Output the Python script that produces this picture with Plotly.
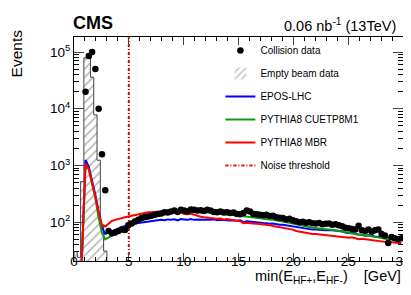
import plotly.graph_objects as go

# bin centres (0.3 GeV bins)
bin_width = 0.3
centers = [round(0.15 + 0.3 * k, 2) for k in range(100)]

# Empty beam data histogram (first bins)
empty_x = [0.15, 0.45, 0.75, 1.05, 1.35, 1.65, 1.95, 2.25, 2.55, 2.85]
empty_y = [30, 24, 520, 79000, 79000, 36000, 7800, 1240, 90, 31]

# Collision data (from 1.05 GeV)
data_y = [
    20000, 85000, 100000, 50000, 10000, 1570, 365,
    70, 64, 66, 70, 74, 73, 88, 95, 103, 110, 118, 124, 126, 130, 135, 140, 143,
    150, 148, 155, 160, 152, 165, 160, 155, 168, 165, 160, 162, 158, 165, 160, 152,
    150, 155, 148, 150, 145, 148, 140, 138, 145, 160, 155, 140, 138, 135, 132, 136,
    128, 130, 122, 120, 118, 112, 115, 108, 104, 100, 102, 98, 100, 96, 95, 97,
    92, 94, 95, 90, 92, 88, 85, 80, 78, 76, 74, 87, 72, 70, 74, 68, 72, 74,
    62, 58, 43, 55, 52, 50, 52,
]
data_x = centers[3:3 + len(data_y)]

# MC simulations (from 0.45 GeV)
mc_x = centers[1:]
epos = [
    1, 45, 1250, 950, 560, 300, 150, 80, 62, 66, 70, 74, 78, 82, 86, 90,
    92, 95, 97, 100, 102, 103, 105, 106, 108, 110, 108, 112, 110, 113, 108, 114,
    112, 110, 114, 110, 112, 110, 111, 112, 110, 112, 108, 110, 108, 109, 107, 108,
    106, 108, 100, 104, 102, 101, 100, 98, 97, 96, 94, 95, 92, 90, 90, 88,
    86, 85, 84, 80, 78, 77, 76, 74, 74, 73, 73, 72, 73, 72, 73, 70,
    69, 66, 64, 66, 62, 61, 60, 58, 59, 57, 56, 55, 54, 53, 52, 51,
    51, 50, 50,
]
cuetp8m1 = [
    1, 35, 1000, 850, 500, 260, 120, 65, 50, 53, 58, 63, 68, 74, 79, 84,
    90, 96, 102, 108, 112, 118, 122, 127, 132, 136, 140, 144, 146, 148, 150, 152,
    155, 150, 154, 152, 153, 150, 148, 150, 146, 145, 142, 140, 142, 138, 136, 134,
    132, 130, 128, 128, 124, 122, 120, 118, 117, 116, 112, 110, 108, 106, 104, 100,
    98, 95, 92, 88, 86, 84, 82, 80, 79, 78, 76, 75, 74, 73, 72, 70,
    68, 66, 65, 64, 62, 60, 60, 58, 58, 56, 55, 54, 52, 51, 50, 50,
    49, 49, 49,
]
mbr = [
    1, 40, 1080, 870, 520, 280, 150, 90, 84, 95, 105, 110, 115, 118, 122, 126,
    130, 135, 140, 144, 147, 150, 150, 152, 150, 155, 152, 155, 150, 152, 145, 148,
    140, 138, 142, 135, 130, 125, 122, 120, 118, 118, 115, 116, 112, 114, 110, 108,
    106, 104, 96, 98, 96, 96, 94, 93, 92, 90, 88, 86, 84, 82, 80, 78,
    76, 74, 70, 68, 66, 64, 63, 62, 62, 61, 60, 59, 58, 57, 57, 56,
    55, 54, 53, 54, 52, 50, 51, 50, 49, 48, 48, 47, 46, 45, 45, 44,
    44, 43, 43,
]

noise_x = [5, 5]
noise_y = [10, 1e6]

x_ticks = [0, 5, 10, 15, 20, 25, 30]
y_tickvals = [1e2, 1e3, 1e4, 1e5]
y_ticktext = ["10<sup>2</sup>", "10<sup>3</sup>", "10<sup>4</sup>", "10<sup>5</sup>"]

FONT = "Liberation Sans, Arial, Helvetica, sans-serif"

# step outline of the empty beam histogram, built from its bins
floor_val = 1.0
step_x, step_y = [empty_x[0] - bin_width / 2], [floor_val]
for xc, yv in zip(empty_x, empty_y):
    step_x += [xc - bin_width / 2, xc + bin_width / 2]
    step_y += [yv, yv]
step_x.append(empty_x[-1] + bin_width / 2)
step_y.append(floor_val)

fig = go.Figure()

fig.add_trace(go.Bar(
    x=empty_x, y=empty_y, width=bin_width, name="Empty beam data",
    marker=dict(color="white", line=dict(width=0),
                pattern=dict(shape="/", fgcolor="#666666", bgcolor="white", size=6, solidity=0.25)),
    legendrank=2, legendgroup="g2",
))
fig.add_trace(go.Scatter(
    x=step_x, y=step_y, mode="lines", showlegend=False, hoverinfo="skip",
    line=dict(color="#444444", width=1), legendgroup="g2",
))
fig.add_trace(go.Scatter(x=mc_x, y=epos, mode="lines", name="EPOS-LHC",
                         line=dict(color="#0000ff", width=2), legendrank=3, legendgroup="g3"))
fig.add_trace(go.Scatter(x=mc_x, y=cuetp8m1, mode="lines", name="PYTHIA8 CUETP8M1",
                         line=dict(color="#119911", width=2), legendrank=4, legendgroup="g4"))
fig.add_trace(go.Scatter(x=mc_x, y=mbr, mode="lines", name="PYTHIA8 MBR",
                         line=dict(color="#ff0000", width=2), legendrank=5, legendgroup="g5"))
fig.add_trace(go.Scatter(x=noise_x, y=noise_y, mode="lines", name="Noise threshold",
                         line=dict(color="#dd0000", width=2, dash="3px,2px,1px,2px"),
                         legendrank=6, legendgroup="g6"))
fig.add_trace(go.Scatter(
    x=data_x, y=data_y, mode="markers", name="Collision data",
    marker=dict(color="black", size=6.5, symbol="circle"),
    legendrank=1, legendgroup="g1",
))

fig.update_layout(
    width=411, height=295,
    margin=dict(l=66, r=8, t=29, b=42),
    paper_bgcolor="white", plot_bgcolor="white",
    font=dict(family=FONT, color="black"),
    bargap=0,
    showlegend=True,
    legend=dict(
        x=0.445, y=1.005, xanchor="left", yanchor="top",
        bgcolor="rgba(0,0,0,0)", borderwidth=0,
        font=dict(size=10, family=FONT),
        traceorder="grouped", tracegroupgap=4,
        itemwidth=30,
    ),
    xaxis=dict(
        range=[0, 30], tickvals=x_ticks, ticks="inside", ticklen=8,
        mirror="allticks", showline=True, linecolor="black", linewidth=1,
        showgrid=False, zeroline=False,
        tickfont=dict(size=13.5, family=FONT),
        ticklabelstandoff=-12,
        minor=dict(ticks="inside", ticklen=4, dtick=1, showgrid=False, tickcolor="black"),
    ),
    yaxis=dict(
        type="log", range=[1.316, 5.265], tickvals=y_tickvals, ticktext=y_ticktext,
        ticks="inside", ticklen=10,
        mirror="allticks", showline=True, linecolor="black", linewidth=1,
        showgrid=False, zeroline=False,
        tickfont=dict(size=13.5, family=FONT),
        minor=dict(ticks="inside", ticklen=5, dtick="D1", showgrid=False, tickcolor="black"),
    ),
    annotations=[
        dict(text="<b>CMS</b>", xref="paper", yref="paper", x=-0.008, y=1.0,
             xanchor="left", yanchor="bottom", showarrow=False,
             font=dict(size=18, family=FONT), yshift=2),
        dict(text="0.06 nb<sup>-1</sup> (13TeV)", xref="paper", yref="paper", x=0.985, y=1.0,
             xanchor="right", yanchor="bottom", showarrow=False,
             font=dict(size=14.5, family=FONT), yshift=1),
        dict(text="Events", xref="paper", yref="paper", x=-0.175, y=1.0,
             xanchor="center", yanchor="top", textangle=-90, showarrow=False,
             font=dict(size=15.5, family=FONT), yshift=10),
        dict(text="min(E<sub>HF+</sub>,E<sub>HF-</sub>)    [GeV]", xref="paper", yref="paper",
             x=1.0, y=0, xanchor="right", yanchor="top", yshift=-5, showarrow=False,
             font=dict(size=14.5, family=FONT)),
    ],
)

fig.write_html("out.html")
